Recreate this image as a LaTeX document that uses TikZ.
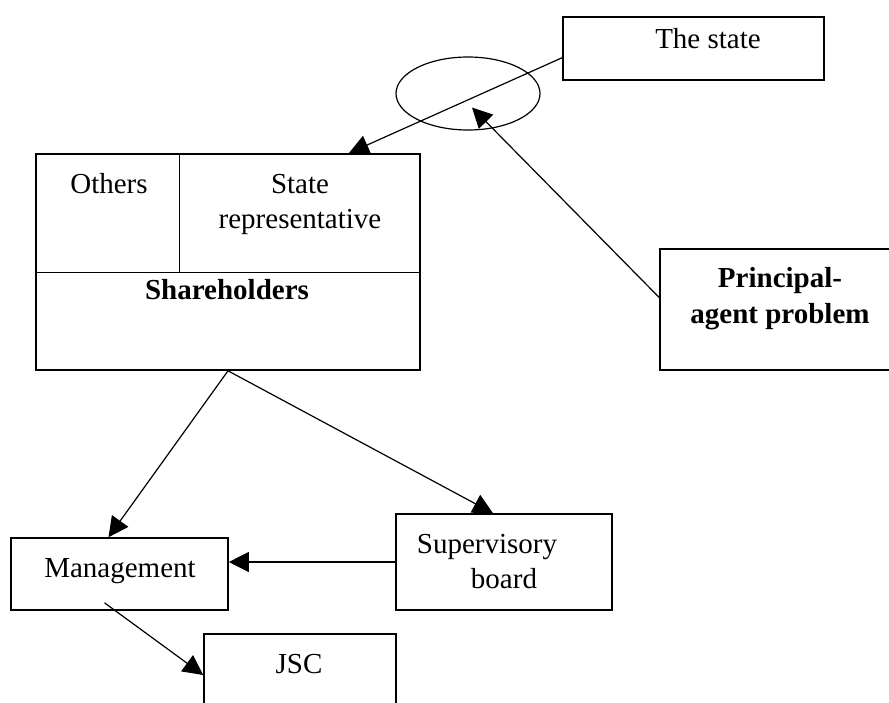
\documentclass[tikz,border=0pt]{standalone}
\usepackage{fontspec}
\setmainfont{Liberation Serif}
\usetikzlibrary{arrows.meta}
\usetikzlibrary{calc}
\usetikzlibrary{shapes.geometric}

\begin{document}
\begin{tikzpicture}[x=1pt, y=-1pt,
        box/.style={draw, line width=1.6pt, rectangle, inner sep=0pt},
        txt/.style={anchor=base, inner sep=0pt, font=\fontsize{29}{35}\selectfont},
        btxt/.style={txt, font=\fontsize{29}{35}\selectfont\bfseries},
        arr/.style={line width=1.2pt, -{Triangle[length=20pt, width=20pt]}}]
            \clip (0,0) rectangle (889,702);

            % Boxes
            \node[box, minimum width=261pt, minimum height=63pt] (state) at (693.5, 48.5) {};
            \node[box, ellipse, line width=1.2pt, minimum width=144pt, minimum height=73pt] (oval) at (468, 93.5) {};
            \node[box, minimum width=384pt, minimum height=216pt] (share) at (228, 262) {};
            \node[box, minimum width=250pt, minimum height=121pt] (pap) at (785, 309.5) {};
            \node[box, minimum width=217pt, minimum height=72pt] (mgmt) at (119.5, 574) {};
            \node[box, minimum width=216pt, minimum height=96pt] (board) at (504, 562) {};
            \node[box, minimum width=192pt, minimum height=106pt] (jsc) at (300, 687) {};

            % Parts of the shareholders box
            \draw[line width=1.3pt] ($(share.north west)+(0,119)$) -- ($(share.north east)+(0,119)$);
            \draw[line width=1.3pt] ($(share.north west)+(144,0)$) -- ($(share.north west)+(144,119)$);

            % Labels
            \node[txt] (statetxt) at (708, 48) {The state};
            \node[txt] (otherstxt) at (109, 193) {Others};
            \node[txt] (reptxt) at (300, 193) {State};
            \node[txt] (reptxtb) at (300, 228) {representative};
            \node[btxt] (sharetxt) at (227, 299) {Shareholders};
            \node[btxt] (paptxt) at (780, 287) {Principal-};
            \node[btxt] (paptxtb) at (780, 323) {agent problem};
            \node[txt] (mgmttxt) at (120, 577) {Management};
            \node[txt] (boardtxt) at (487, 553) {Supervisory};
            \node[txt] (boardtxtb) at (504, 588) {board};
            \node[txt] (jsctxt) at (299, 673) {JSC};

            % Edges
            \draw[arr] (state.184) -- (share.42);
            \draw[arr] ($(pap.west)+(0,-12)$) -- ($(oval.center)+(4,14)$);
            \draw[arr] (share.south) -- ($(mgmt.north)+(-11,0)$);
            \draw[arr] (share.south) -- ($(board.north)+(-11,0)$);
            \draw[arr] (board.west) -- (board.west -| mgmt.east);
            \draw[arr] ($(mgmt.south)+(-15,-8)$) -- ($(jsc.west)+(0,-12)$);
        \end{tikzpicture}
\end{document}
